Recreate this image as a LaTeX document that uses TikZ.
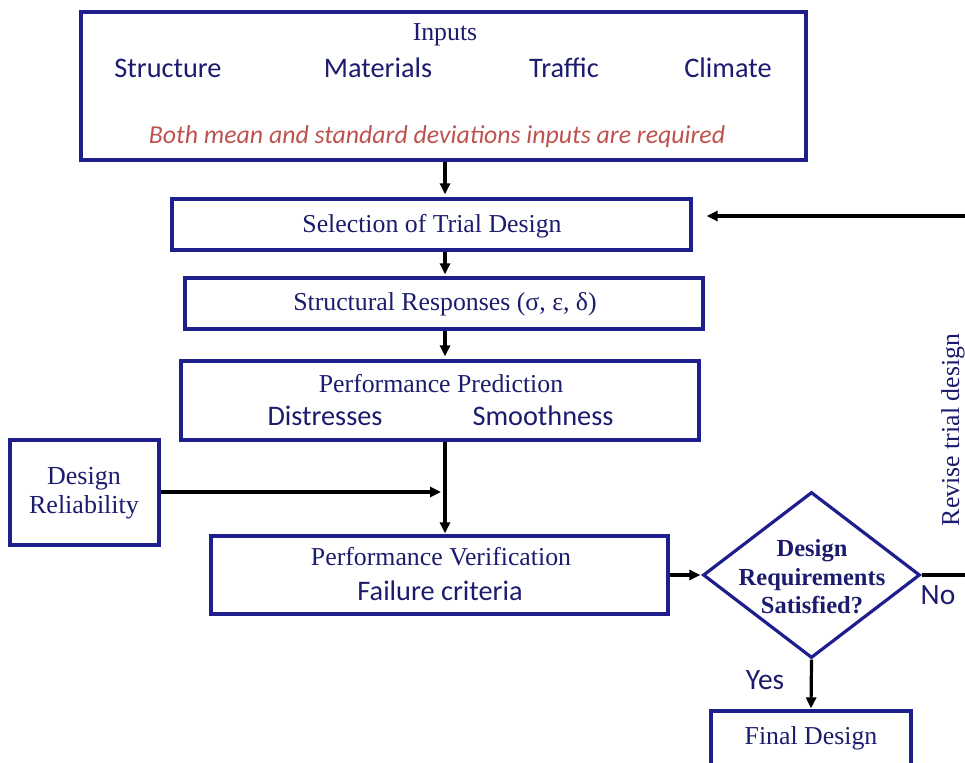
\documentclass[tikz,border=0pt]{standalone}
\usepackage{fontspec}
\setmainfont{Liberation Serif}
\newfontfamily\calib{Carlito}
\usetikzlibrary{shapes.geometric,arrows.meta}
\definecolor{navyb}{RGB}{30,30,140}
\definecolor{navyt}{RGB}{28,28,110}
\definecolor{redt}{RGB}{190,82,78}
\tikzset{
  x=1pt,y=-1pt,
  box/.style={draw=navyb,line width=3.2pt,inner sep=0pt,anchor=center},
  serif/.style={text=navyt,font=\fontsize{25.8}{29}\selectfont,inner sep=0pt},
  sans/.style={text=navyt,font=\calib\fontsize{28.3}{30}\selectfont,inner sep=0pt},
  conn/.style={line width=3.2pt,black},
  arr/.style={conn,-{Triangle[length=11pt,width=10pt]}},
}
\begin{document}
\begin{tikzpicture}
\useasboundingbox (0,0) rectangle (965,762);
\clip (0,0) rectangle (965,762);
% boxes
\node[box,minimum width=725pt,minimum height=148pt] (inputs) at (443.5,86) {};
\node[box,minimum width=519pt,minimum height=51pt] (sel) at (431.5,224.5) {};
\node[box,minimum width=518pt,minimum height=51pt] (resp) at (444,303.5) {};
\node[box,minimum width=518pt,minimum height=79pt] (pred) at (440,400.5) {};
\node[box,minimum width=149pt,minimum height=105pt] (rel) at (84.5,492.5) {};
\node[box,minimum width=457pt,minimum height=78pt] (ver) at (439.5,575) {};
\node[box,shape=diamond,minimum width=217pt,minimum height=166pt] (dia) at (811.5,575) {};
\node[box,minimum width=200pt,minimum height=60pt] (fin) at (811,741) {};
% texts
\node[serif] (tinputs) at (445,35) {Inputs};
\node[sans] (tstruct) at (168,68) {Structure};
\node[sans] (tmat) at (378,68) {Materials};
\node[sans] (ttraf) at (564,68) {Traffic};
\node[sans] (tclim) at (728,68) {Climate};
\node[text=redt,font=\calib\itshape\fontsize{25.8}{29}\selectfont,inner sep=0pt] (treq) at (437,137) {Both mean and standard deviations inputs are required};
\node[serif] (tsel) at (432,226) {Selection of Trial Design};
\node[serif] (tresp) at (445,304) {Structural Responses (σ, ε, δ)};
\node[serif] (tpred) at (441,384) {Performance Prediction};
\node[sans] (tdis) at (325,416) {Distresses};
\node[sans] (tsmo) at (543,416) {Smoothness};
\node[serif,align=center,font=\fontsize{26}{29}\selectfont] (trel) at (84,493) {Design\\Reliability};
\node[serif] (tver) at (441,557) {Performance Verification};
\node[sans] (tfail) at (440,591) {Failure criteria};
\node[serif,align=center,font=\bfseries\fontsize{24.5}{28.5}\selectfont] (tdia) at (812,577) {Design\\Requirements\\Satisfied?};
\node[serif] (tfin) at (811,738) {Final Design};
\node[sans,font=\calib\fontsize{29.5}{30}\selectfont] (tno) at (938,595) {No};
\node[sans,font=\calib\fontsize{29.5}{30}\selectfont] (tyes) at (765,680) {Yes};
\node[serif,rotate=90] (trev) at (953,430) {Revise trial design};
% connectors
\coordinate (join) at (445,492);
\coordinate (fbtop) at (966,216);
\coordinate (fbno) at (966,574);
\draw[arr,shorten >=3pt] (inputs.south -| tinputs) -- (sel.north -| tinputs);
\draw[arr,shorten >=2pt] (sel.south -| tinputs) -- (resp.north -| tinputs);
\draw[arr,shorten >=3pt] (resp.south -| tinputs) -- (pred.north -| tinputs);
\draw[arr,shorten >=1pt] (pred.south -| tinputs) -- (ver.north -| tinputs);
\draw[arr,shorten >=4pt] (rel.east |- join) -- (join);
\draw[arr,shorten >=1pt] (ver.east) -- (dia.west);
\draw[conn] (dia.east) -- (dia.east -| fbno);
\draw[arr,shorten >=1pt] (dia.south) -- (fin.north);
\draw[arr,shorten >=14pt] (fbtop) -- (fbtop -| sel.east);
\end{tikzpicture}
\end{document}
